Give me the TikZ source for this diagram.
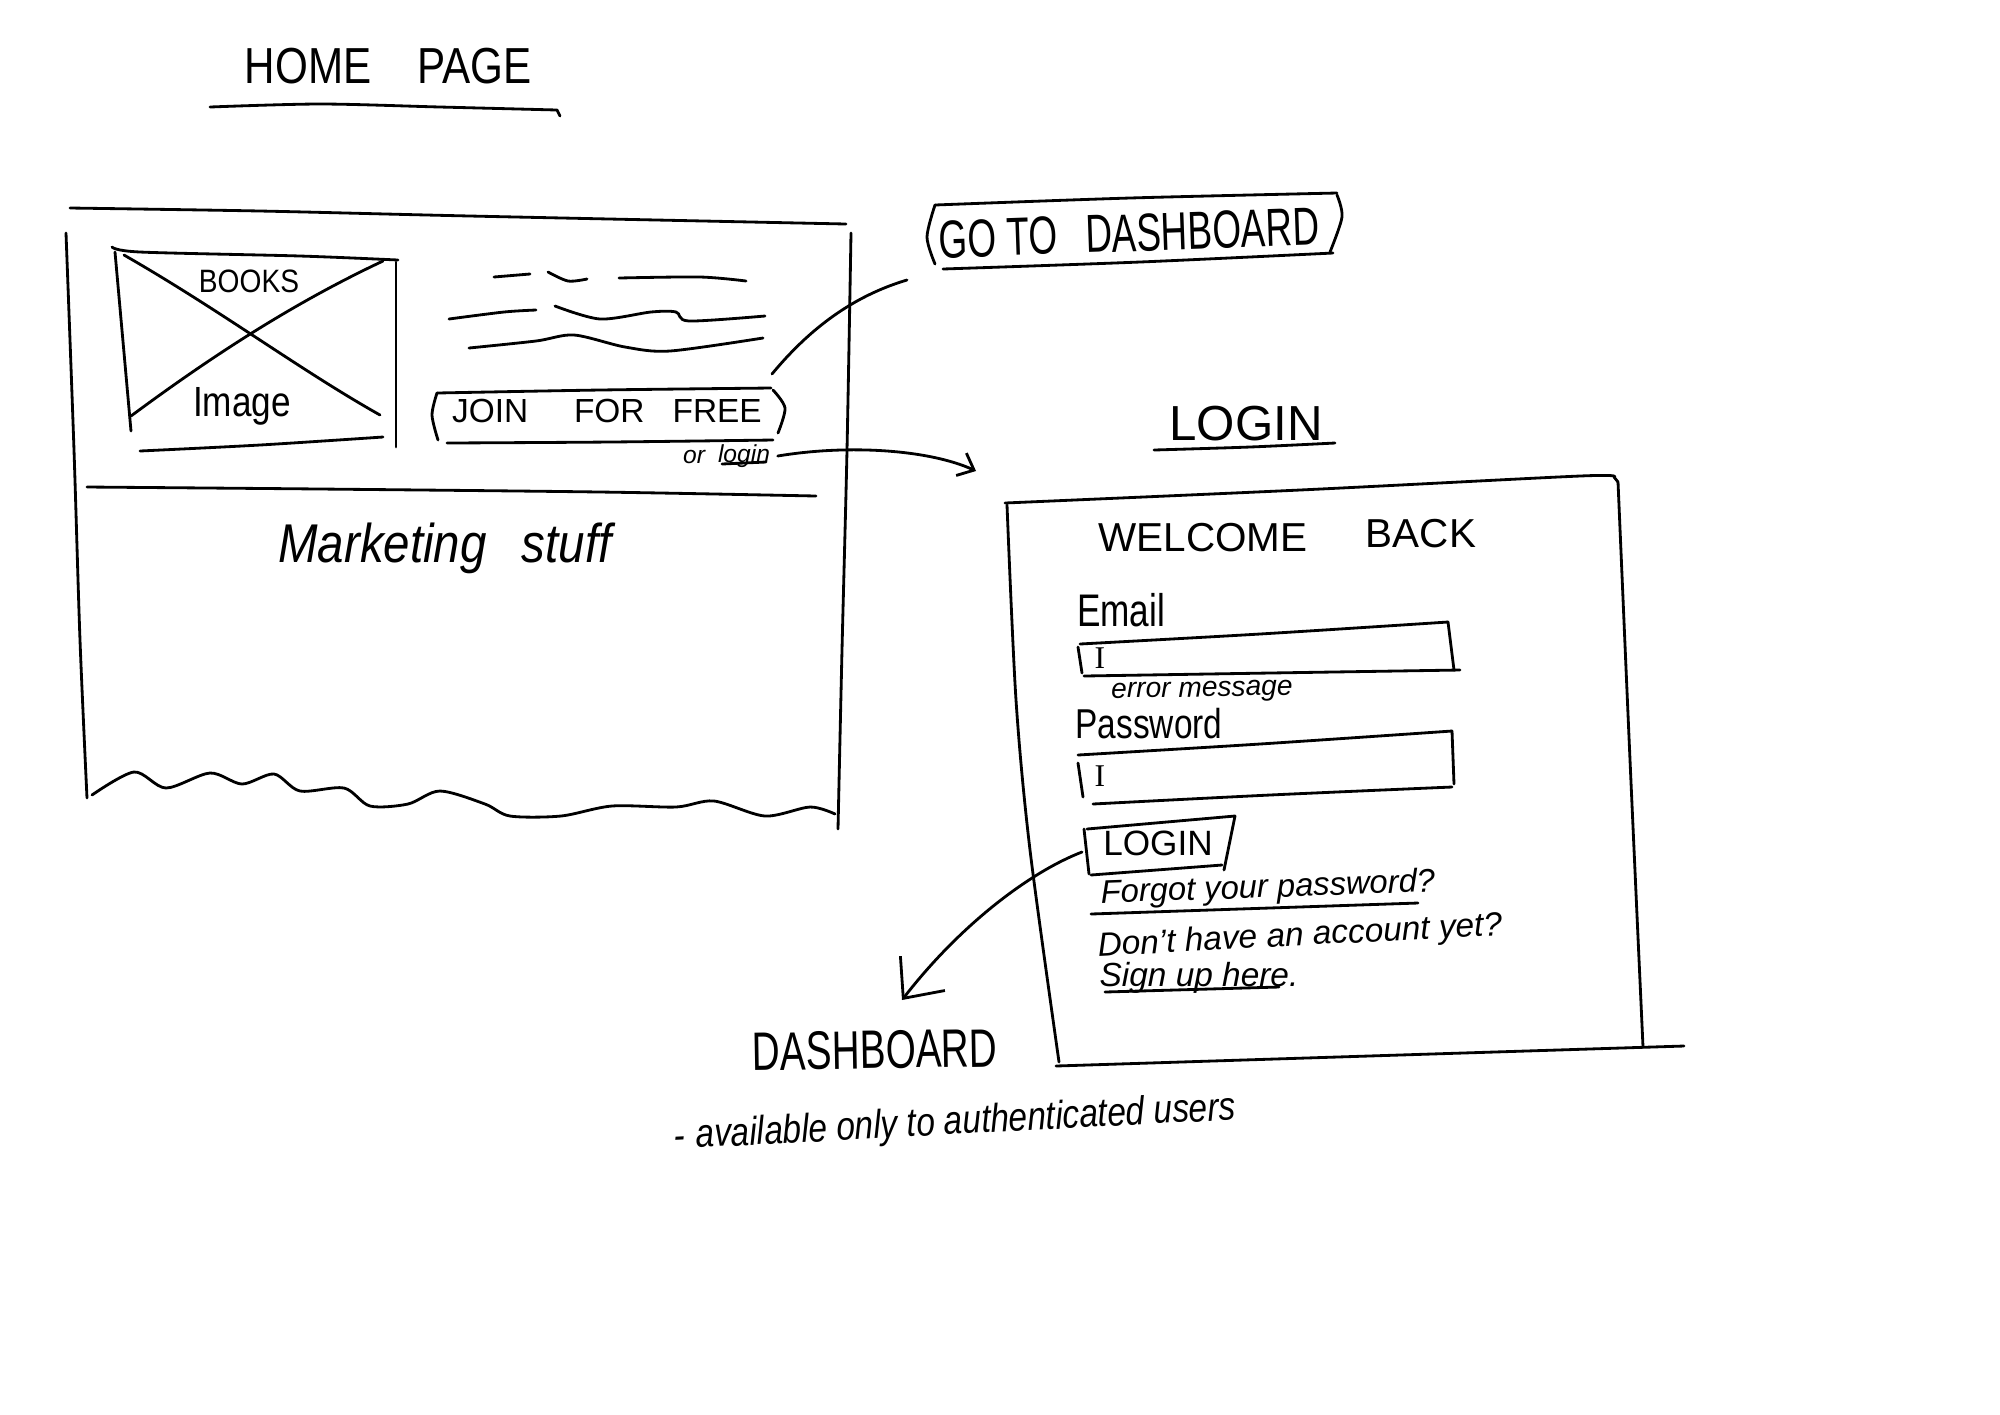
\documentclass[tikz,border=0pt]{standalone}
\usepackage{fontspec}
\usepackage{graphicx}
\setmainfont{Liberation Sans}
\newfontfamily\beamfont{Liberation Serif}
\usetikzlibrary{arrows.meta}
\newcommand\fsz[1]{\fontsize{#1}{#1}\selectfont}
\newcommand\tall[2]{\scalebox{1}[#1]{#2}}

\tikzset{
  pen/.style={line width=0.8pt, line cap=round, line join=round},
  caps/.style={inner sep=0pt},
  script/.style={inner sep=0pt},
  flow/.style={pen, -{Straight Barb[length=9pt,width=16pt,line width=0.8pt]}},
  smallflow/.style={pen, -{Straight Barb[length=4pt,width=7pt,line width=0.8pt]}},
}

\begin{document}
\begin{tikzpicture}[x=0.01cm,y=-0.01cm]
\useasboundingbox (0,0) rectangle (2000,1414);
\fill[white] (0,0) rectangle (2000,1414);

% ---------- Home page ----------
\node[caps,font=\fsz{12}] (homeTitle) at (388,66) {\tall{1.2}{HOME\hspace{13pt}PAGE}};
\draw[pen] plot[smooth] coordinates {(210,107)(320,104)(440,107)(557,110)} -- (560,116);

% page frame
\draw[pen] plot[smooth] coordinates {(70,208)(260,211)(470,216)(846,224)};
\draw[pen] plot[smooth] coordinates {(66,233)(74,450)(80,640)(87,798)};
\draw[pen] plot[smooth] coordinates {(851,233)(847,450)(842,650)(838,829)};
\draw[pen] plot[smooth] coordinates {(92,795)(134,772)(166,788)(210,773)(242,784)(274,774)(300,791)(344,788)(370,806)(408,804)(440,791)(485,804)(510,816)(561,816)(612,806)(676,807)(714,801)(765,816)(810,807)(835,814)};
\draw[pen] plot[smooth] coordinates {(87,487)(320,489)(600,492)(816,496)};

% image placeholder
\draw[pen] plot[smooth] coordinates {(112,247)(140,252)(300,256)(398,260)};
\draw[pen] (115,252) -- (131,431);
\draw[pen] (396,262) -- (396,447);
\draw[pen] plot[smooth] coordinates {(140,451)(260,445)(383,437)};
\draw[pen] (124,255) .. controls (220,310) and (300,370) .. (380,415);
\draw[pen] (131,416) .. controls (220,350) and (300,300) .. (383,261);
\node[caps,font=\fsz{8}] (booksLabel) at (249,281) {\tall{1.15}{BOOKS}};
\node[script,font=\fsz{10}] (imageLabel) at (242,406) {\tall{1.2}{Image}};

% placeholder text lines
\draw[pen] (494,277) -- (530,274);
\draw[pen] plot[smooth] coordinates {(548,272)(568,281)(587,279)};
\draw[pen] plot[smooth] coordinates {(619,278)(700,277)(746,281)};
\draw[pen] plot[smooth] coordinates {(449,319)(504,312)(536,310)};
\draw[pen] plot[smooth] coordinates {(555,306)(600,319)(651,312)(676,312)(689,321)(765,316)};
\draw[pen] plot[smooth] coordinates {(469,348)(536,341)(574,335)(625,347)(670,351)(763,338)};

% join button
\node[caps,font=\fsz{9.5}] (join) at (607,411) {JOIN\hspace{13pt}FOR\hspace{8pt}FREE};
\draw[pen] plot[smooth] coordinates {(437,393)(432,415)(438,440)};
\draw[pen] plot[smooth] coordinates {(437,393)(600,390)(771,388)};
\draw[pen] plot[smooth] coordinates {(773,390)(785,408)(778,433)};
\draw[pen] plot[smooth] coordinates {(447,443)(610,442)(773,440)};
\node[script,font=\itshape\fsz{7}] (orText) at (694,457) {or};
\node[script,font=\itshape\fsz{7}] (loginLink) at (744,456) {login};
\draw[pen] (722,464) -- (766,462);

\node[script,font=\itshape\fsz{13.5}] (marketing) at (445,548) {\tall{1.15}{Marketing\hspace{10pt}stuff}};

% ---------- Dashboard button ----------
\node[caps,font=\fsz{10.5},rotate=2] (goto) at (1129,233) {\tall{1.45}{GO\hspace{3pt}TO\hspace{8pt}DASHBOARD}};
\draw[pen] plot[smooth] coordinates {(935,205)(927,237)(935,264)};
\draw[pen] plot[smooth] coordinates {(935,205)(1130,198)(1337,193)};
\draw[pen] plot[smooth] coordinates {(1337,195)(1342,217)(1330,252)};
\draw[pen] plot[smooth] coordinates {(943,269)(1140,262)(1333,253)};

\coordinate (joinCorner) at (772,374);
\coordinate (gotoCorner) at (907,280);
\draw[pen] (joinCorner) .. controls (815,322) and (860,294) .. (gotoCorner);

% ---------- Login page ----------
\node[caps,font=\fsz{14}] (loginTitle) at (1246,424) {LOGIN};
\draw[pen] plot[smooth] coordinates {(1154,450)(1250,447)(1335,443)};

\draw[pen] plot[smooth] coordinates {(1005,503)(1300,490)(1580,476)(1614,477)} -- (1618,482);
\draw[pen] plot[smooth] coordinates {(1618,482)(1630,760)(1643,1047)};
\draw[pen] plot[smooth] coordinates {(1056,1066)(1400,1055)(1684,1046)};
\draw[pen] plot[smooth] coordinates {(1007,505)(1016,700)(1030,850)(1059,1062)};

\coordinate (loginPageCorner) at (976,471);
\draw[smallflow] ([xshift=2pt]loginLink.east) .. controls (850,444) and (930,450) .. (loginPageCorner);

\node[caps,font=\fsz{11.5}] (welcome) at (1203,538) {WELCOME};
\node[caps,font=\fsz{11.5}] (back) at (1421,534) {BACK};

\node[script,font=\fsz{10}] (emailLabel) at (1121,610) {\tall{1.3}{Email}};
\draw[pen] plot[smooth] coordinates {(1080,644)(1260,634)(1448,622)};
\draw[pen] (1448,622) -- (1454,670);
\draw[pen] plot[smooth] coordinates {(1084,676)(1270,673)(1460,670)};
\draw[pen] (1078,647) -- (1082,673);
\node[font=\beamfont\fsz{9}] (emailCursor) at (1100,658) {I};
\node[script,font=\itshape\fsz{8},rotate=1] (errorMsg) at (1202,692) {error message};

\node[script,font=\fsz{9.5}] (passwordLabel) at (1149,724) {\tall{1.25}{Password}};
\draw[pen] plot[smooth] coordinates {(1078,755)(1260,744)(1452,731)};
\draw[pen] (1452,731) -- (1454,784);
\draw[pen] plot[smooth] coordinates {(1093,804)(1270,795)(1452,787)};
\draw[pen] (1078,763) -- (1083,797);
\node[font=\beamfont\fsz{9}] (passwordCursor) at (1100,776) {I};

\node[caps,font=\fsz{10}] (loginBtn) at (1158,843) {LOGIN};
\draw[pen] (1087,829) -- (1235,816) -- (1224,870);
\draw[pen] (1091,875) -- (1222,865);
\draw[pen] (1084,829) -- (1089,874);

\node[script,font=\itshape\fsz{9.3},rotate=2] (forgot) at (1268,889) {Forgot your password?};
\draw[pen] (1091,914) -- (1418,903);
\node[script,font=\itshape\fsz{9.5},rotate=3] (noAccount) at (1300,937) {Don't have an account yet?};
\node[script,font=\itshape\fsz{9.5}] (signUp) at (1199,978) {Sign up here.};
\draw[pen] (1105,992) -- (1279,987);

% ---------- Dashboard ----------
\coordinate (loginBtnEdge) at (1082,852);
\coordinate (dashTip) at (902,1000);
\draw[flow] (loginBtnEdge) .. controls (1030,872) and (960,925) .. (dashTip);

\node[caps,font=\fsz{11},rotate=1] (dashboard) at (875,1050) {\tall{1.4}{DASHBOARD}};
\node[script,font=\itshape\fsz{9.5},rotate=3] (dashNote) at (955,1124) {\tall{1.2}{-\hspace{3pt}available only to authenticated users}};

\end{tikzpicture}
\end{document}
